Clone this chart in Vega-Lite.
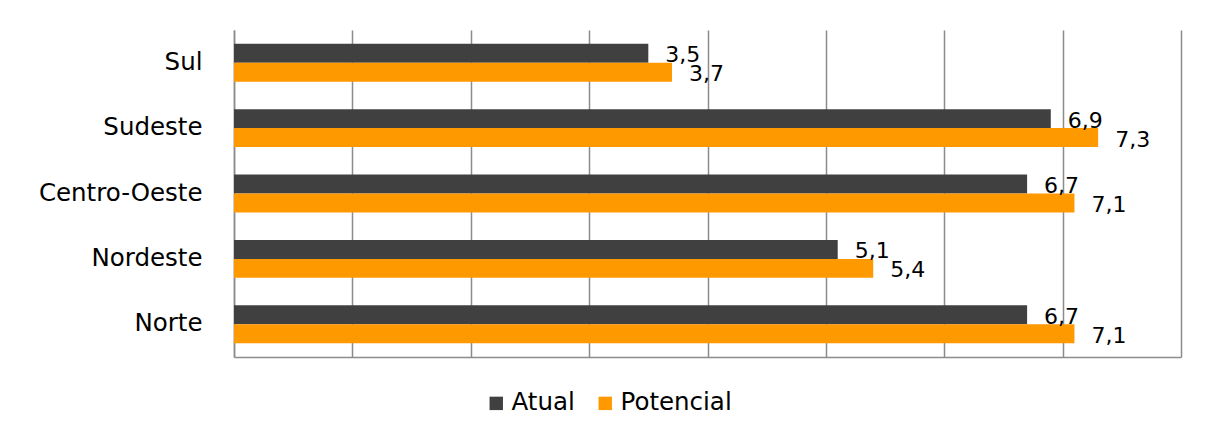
{
  "$schema": "https://vega.github.io/schema/vega-lite/v6.json",
  "width": 947,
  "height": 327,
  "autosize": {"type": "none"},
  "padding": {"left": 234, "top": 30, "right": 28, "bottom": 73},
  "background": "white",
  "config": {
    "view": {"stroke": null},
    "font": "DejaVu Sans",
    "locale": {"number": {"decimal": ",", "thousands": ".", "grouping": [3], "currency": ["R$", ""]}}
  },
  "data": {
    "values": [
      {"regiao": "Sul", "serie": "Atual", "valor": 3.5},
      {"regiao": "Sul", "serie": "Potencial", "valor": 3.7},
      {"regiao": "Sudeste", "serie": "Atual", "valor": 6.9},
      {"regiao": "Sudeste", "serie": "Potencial", "valor": 7.3},
      {"regiao": "Centro-Oeste", "serie": "Atual", "valor": 6.7},
      {"regiao": "Centro-Oeste", "serie": "Potencial", "valor": 7.1},
      {"regiao": "Nordeste", "serie": "Atual", "valor": 5.1},
      {"regiao": "Nordeste", "serie": "Potencial", "valor": 5.4},
      {"regiao": "Norte\u00a0", "serie": "Atual", "valor": 6.7},
      {"regiao": "Norte\u00a0", "serie": "Potencial", "valor": 7.1}
    ]
  },
  "encoding": {
    "y": {
      "field": "regiao",
      "type": "nominal",
      "sort": ["Sul", "Sudeste", "Centro-Oeste", "Nordeste", "Norte\u00a0"],
      "scale": {"paddingInner": 0.42, "paddingOuter": 0.21},
      "axis": {
        "title": null,
        "ticks": false,
        "domain": true,
        "domainColor": "#8c8c8c",
        "domainWidth": 1.5,
        "labelFontSize": 24.5,
        "labelFont": "DejaVu Sans",
        "labelColor": "#000000",
        "labelPadding": 32,
        "labelLimit": 0
      }
    },
    "yOffset": {"field": "serie", "type": "nominal", "sort": ["Atual", "Potencial"]}
  },
  "layer": [
    {
      "mark": {"type": "bar"},
      "encoding": {
        "x": {
          "field": "valor",
          "type": "quantitative",
          "scale": {"domain": [0, 8], "nice": false},
          "axis": {
            "title": null,
            "values": [0, 1, 2, 3, 4, 5, 6, 7, 8],
            "labels": false,
            "ticks": false,
            "grid": true,
            "gridColor": "#8c8c8c",
            "gridWidth": 1.5,
            "domain": true,
            "domainColor": "#8c8c8c",
            "domainWidth": 1.5
          }
        },
        "color": {
          "field": "serie",
          "type": "nominal",
          "scale": {"domain": ["Atual", "Potencial"], "range": ["#404040", "#FF9900"]},
          "legend": {
            "title": null,
            "orient": "none",
            "direction": "horizontal",
            "legendX": 250,
            "legendY": 361,
            "padding": 0,
            "symbolType": "square",
            "symbolSize": 180,
            "symbolStrokeWidth": 0,
            "symbolOpacity": 1,
            "labelFontSize": 24.5,
            "labelFont": "DejaVu Sans",
            "labelColor": "#000000",
            "labelOffset": 3,
            "columnPadding": 18
          }
        }
      }
    },
    {
      "mark": {"type": "text", "align": "left", "baseline": "middle", "dx": 17, "dy": 2, "fontSize": 22, "font": "DejaVu Sans", "color": "#000000"},
      "encoding": {
        "x": {"field": "valor", "type": "quantitative"},
        "text": {"field": "valor", "type": "quantitative", "format": ".1f"},
        "detail": {"field": "serie"}
      }
    }
  ]
}
